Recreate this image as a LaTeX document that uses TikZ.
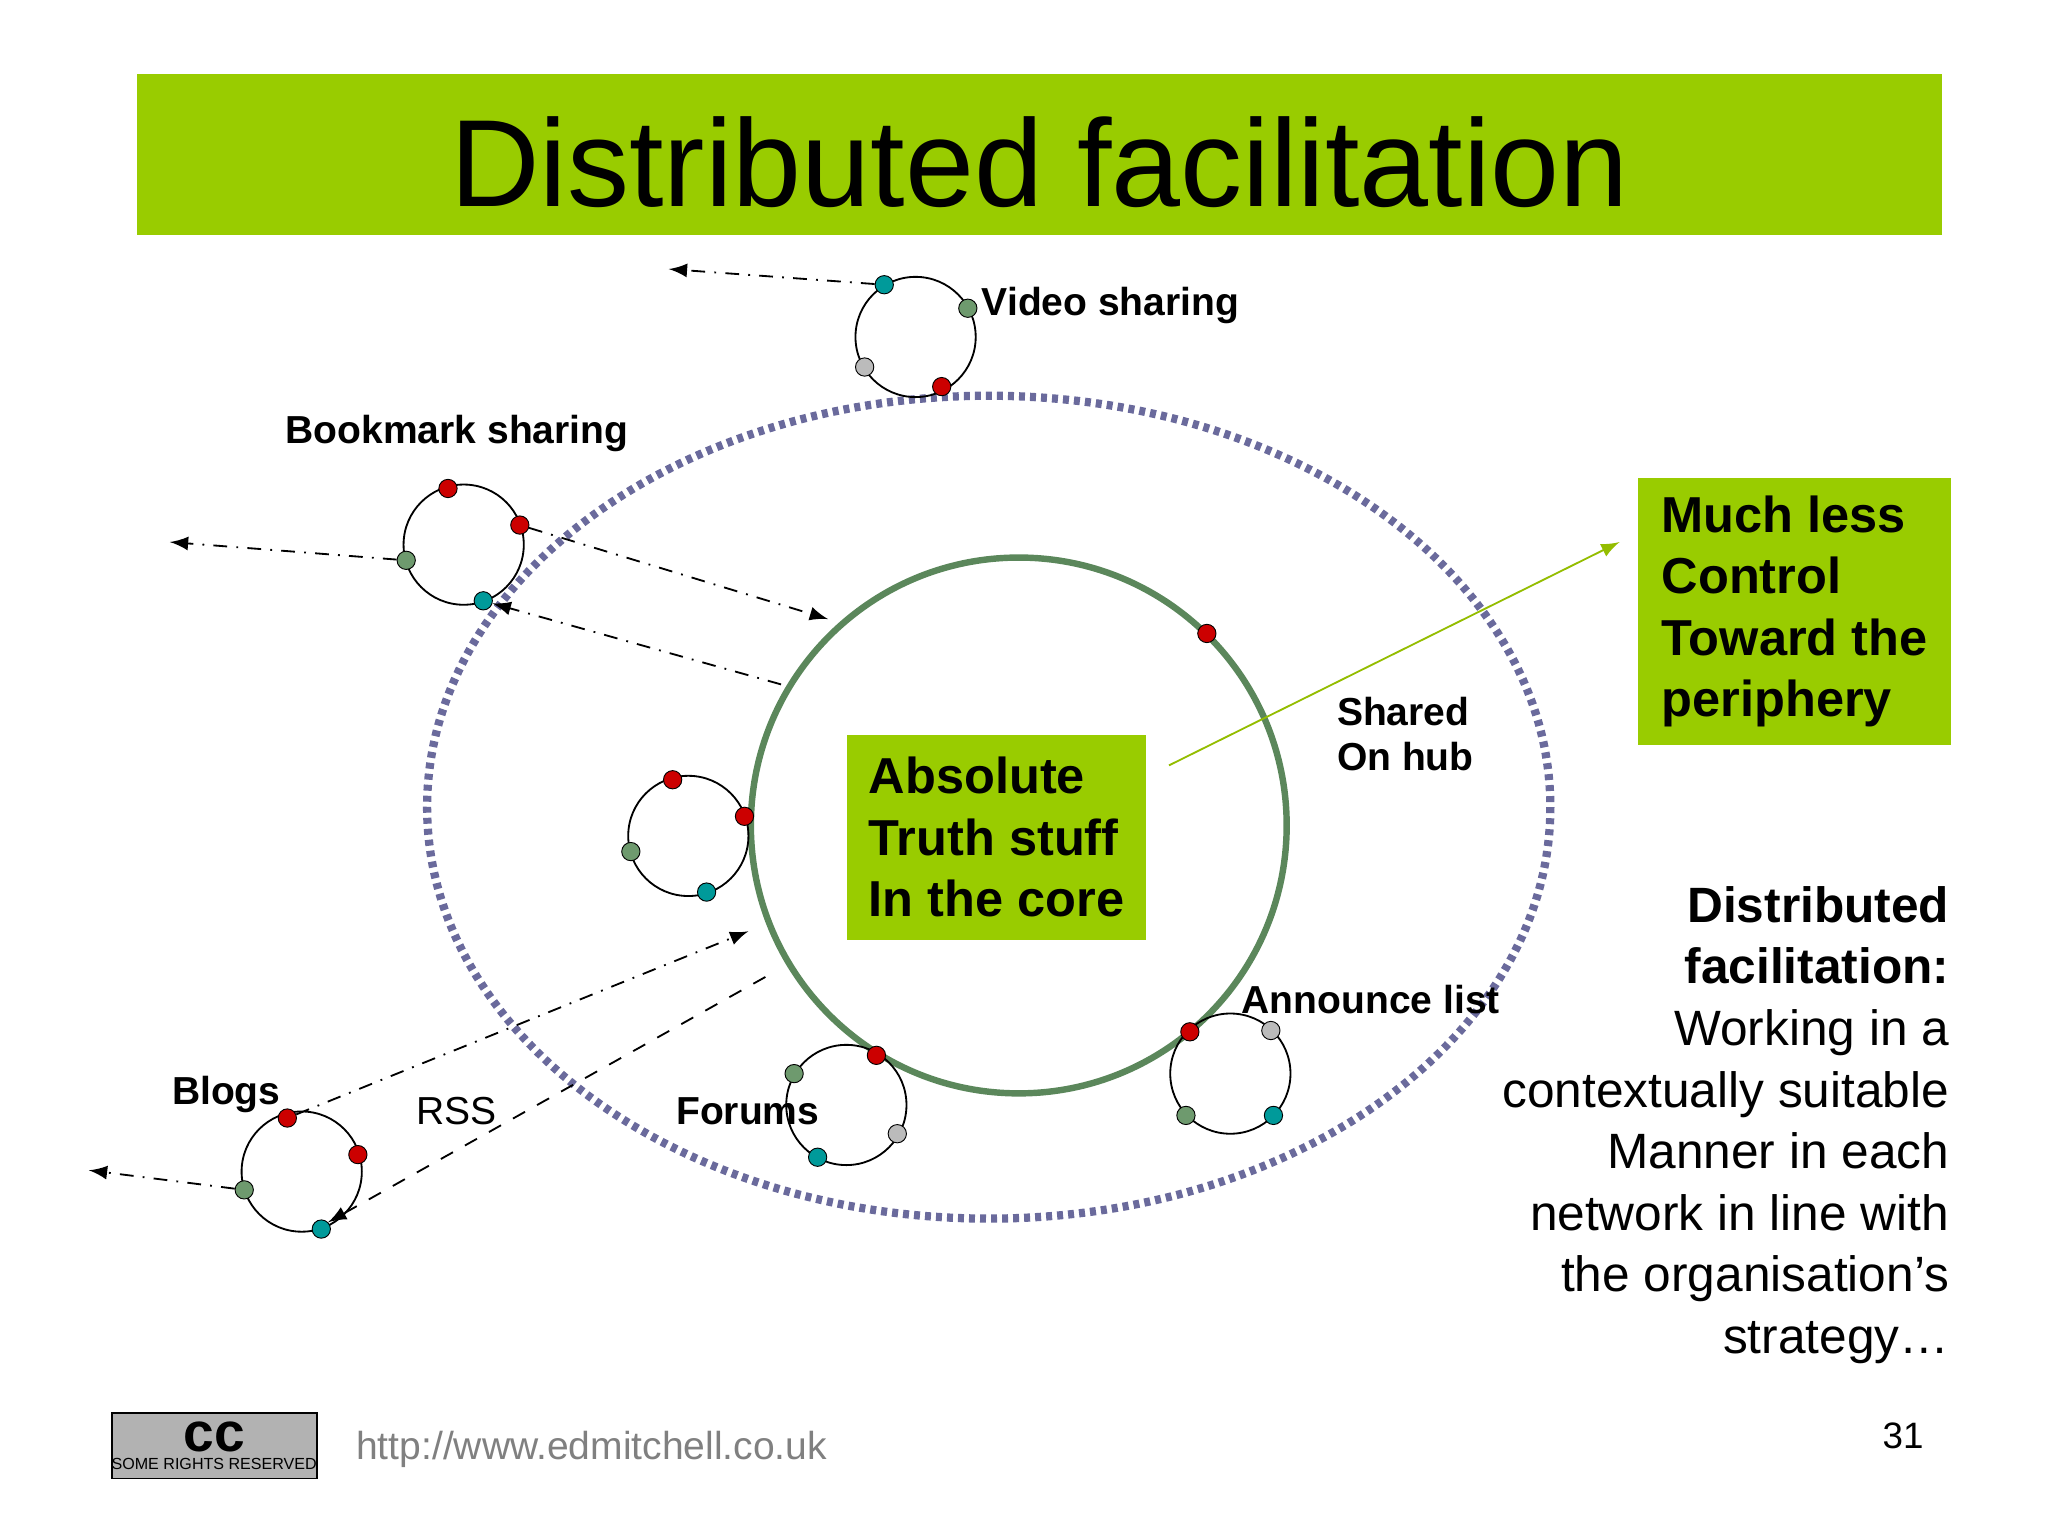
\documentclass[tikz,border=0pt]{standalone}
\usepackage{fontspec}
\setmainfont{Liberation Sans}
\usetikzlibrary{positioning}
\definecolor{lime}{HTML}{99CC00}
\definecolor{ring}{HTML}{5B875B}
\definecolor{halo}{HTML}{6A6A9C}
\definecolor{dred}{HTML}{CC0000}
\definecolor{dteal}{HTML}{009A9A}
\definecolor{dgreen}{HTML}{6E9A6E}
\definecolor{dgrey}{HTML}{BBBBBB}
\tikzset{%
  box/.style = {fill=lime,draw=none,inner sep=0pt,font=\bfseries\fontsize{11}{13.4}\selectfont},
  lbl/.style = {anchor=west,inner sep=0pt,font=\bfseries\fontsize{8.5}{10}\selectfont},
  net/.style = {circle,draw,thin,minimum size=0.92cm,inner sep=0pt},
  dot/.style = {circle,draw,very thin,minimum size=0.14cm,inner sep=0pt},
  feed/.style = {-latex,dash dot,thin},
  rss/.style = {-latex,dashed,thin}
}
\begin{document}
\begin{tikzpicture}[x=0.01cm,y=-0.01cm]
   \useasboundingbox (0,0) rectangle (1568,1176);
   % title
   \fill[lime] (105,57) rectangle (1487,180);
   \node (title) at (796,124) {\fontsize{27}{27}\selectfont Distributed facilitation};
   % periphery and core
   \draw[halo,line width=1.8pt,dash pattern=on 1.3pt off 1.1pt] (757,618) ellipse [x radius=430,y radius=315];
   \node[circle,draw=ring,line width=1.4pt,minimum size=4.1cm] (core) at (780,632) {};
   \node[dot,fill=dred] (cd) at (924,485) {};
   \node[box,minimum width=2.29cm,minimum height=1.57cm,align=left] (truth) at (763,641)
      {Absolute\\Truth stuff\\In the core};
   \node[box,minimum width=2.4cm,minimum height=2.04cm,align=left] (less) at (1374,468)
      {Much less\\Control\\Toward the\\periphery};
   \coordinate (g1) at (895,586);
   \coordinate (g2) at (1240,415);
   \draw[-latex,lime!80!olive,thin] (g1) -- (g2);
   % networks
   \node[net] (video) at (701,258) {};
   \node[net] (book) at (355,417) {};
   \node[net] (mid) at (527,640) {};
   \node[net] (blogs) at (231,897) {};
   \node[net] (forum) at (648,846) {};
   \node[net] (ann) at (942,822) {};
   \foreach \x/\y/\c/\n in {677/218/dteal/v1,741/236/dgreen/v2,662/281/dgrey/v3,721/296/dred/v4,
       343/374/dred/b1,398/402/dred/b2,311/429/dgreen/b3,370/460/dteal/b4,
       515/597/dred/m1,570/625/dred/m2,483/652/dgreen/m3,541/683/dteal/m4,
       220/856/dred/l1,274/884/dred/l2,187/911/dgreen/l3,246/941/dteal/l4,
       608/822/dgreen/f1,671/808/dred/f2,687/868/dgrey/f3,626/886/dteal/f4,
       911/790/dred/a1,973/789/dgrey/a2,908/854/dgreen/a3,975/854/dteal/a4}
     \node[dot,fill=\c] (\n) at (\x,\y) {};
   % links
   \coordinate (e1) at (512,206);
   \coordinate (e2) at (130,415);
   \coordinate (e3) at (68,896);
   \coordinate (c1) at (634,474);
   \coordinate (c2) at (598,524);
   \coordinate (c3) at (573,713);
   \coordinate (c4) at (586,748);
   \draw[feed] (v1) -- (e1);
   \draw[feed] (b3) -- (e2);
   \draw[feed] (l3) -- (e3);
   \draw[feed] (b2) -- (c1);
   \draw[feed] (c2) -- (b4);
   \draw[feed] (l1) -- (c3);
   \draw[rss] (c4) -- (l4.north east);
   % labels
   \node[lbl] (tv) at (751,234) {Video sharing};
   \node[lbl] (tb) at (218,332) {Bookmark sharing};
   \node[lbl,align=left] (th) at (1023,562) {Shared\\On hub};
   \node[lbl] (ta) at (950,765) {Announce list};
   \node[lbl] (tl) at (131,838) {Blogs};
   \node[lbl,font=\fontsize{8.5}{10}\selectfont] (tr) at (318,851) {RSS};
   \node[lbl] (tf) at (517,851) {Forums};
   \node[anchor=north east,inner sep=0pt,align=right,font=\fontsize{10.8}{13.4}\selectfont] (side) at (1493,678)
      {\textbf{Distributed}\\\textbf{facilitation:}\\Working in a\\contextually suitable\\Manner in each\\network in line with\\the organisation’s\\strategy…};
   % footer
   \node[draw,fill=gray!60,minimum width=1.43cm,minimum height=0.5cm,inner sep=0pt,align=center,
      font=\fontsize{3.5}{4}\selectfont] (cc) at (164,1107) {\textbf{\large cc}\\SOME RIGHTS RESERVED};
   \node[anchor=west,inner sep=0pt,text=gray,font=\fontsize{8.5}{9}\selectfont] (url) at (272,1110) {http://www.edmitchell.co.uk};
   \node[inner sep=0pt,font=\fontsize{8}{9}\selectfont] (pg) at (1457,1099) {31};
\end{tikzpicture}
\end{document}
